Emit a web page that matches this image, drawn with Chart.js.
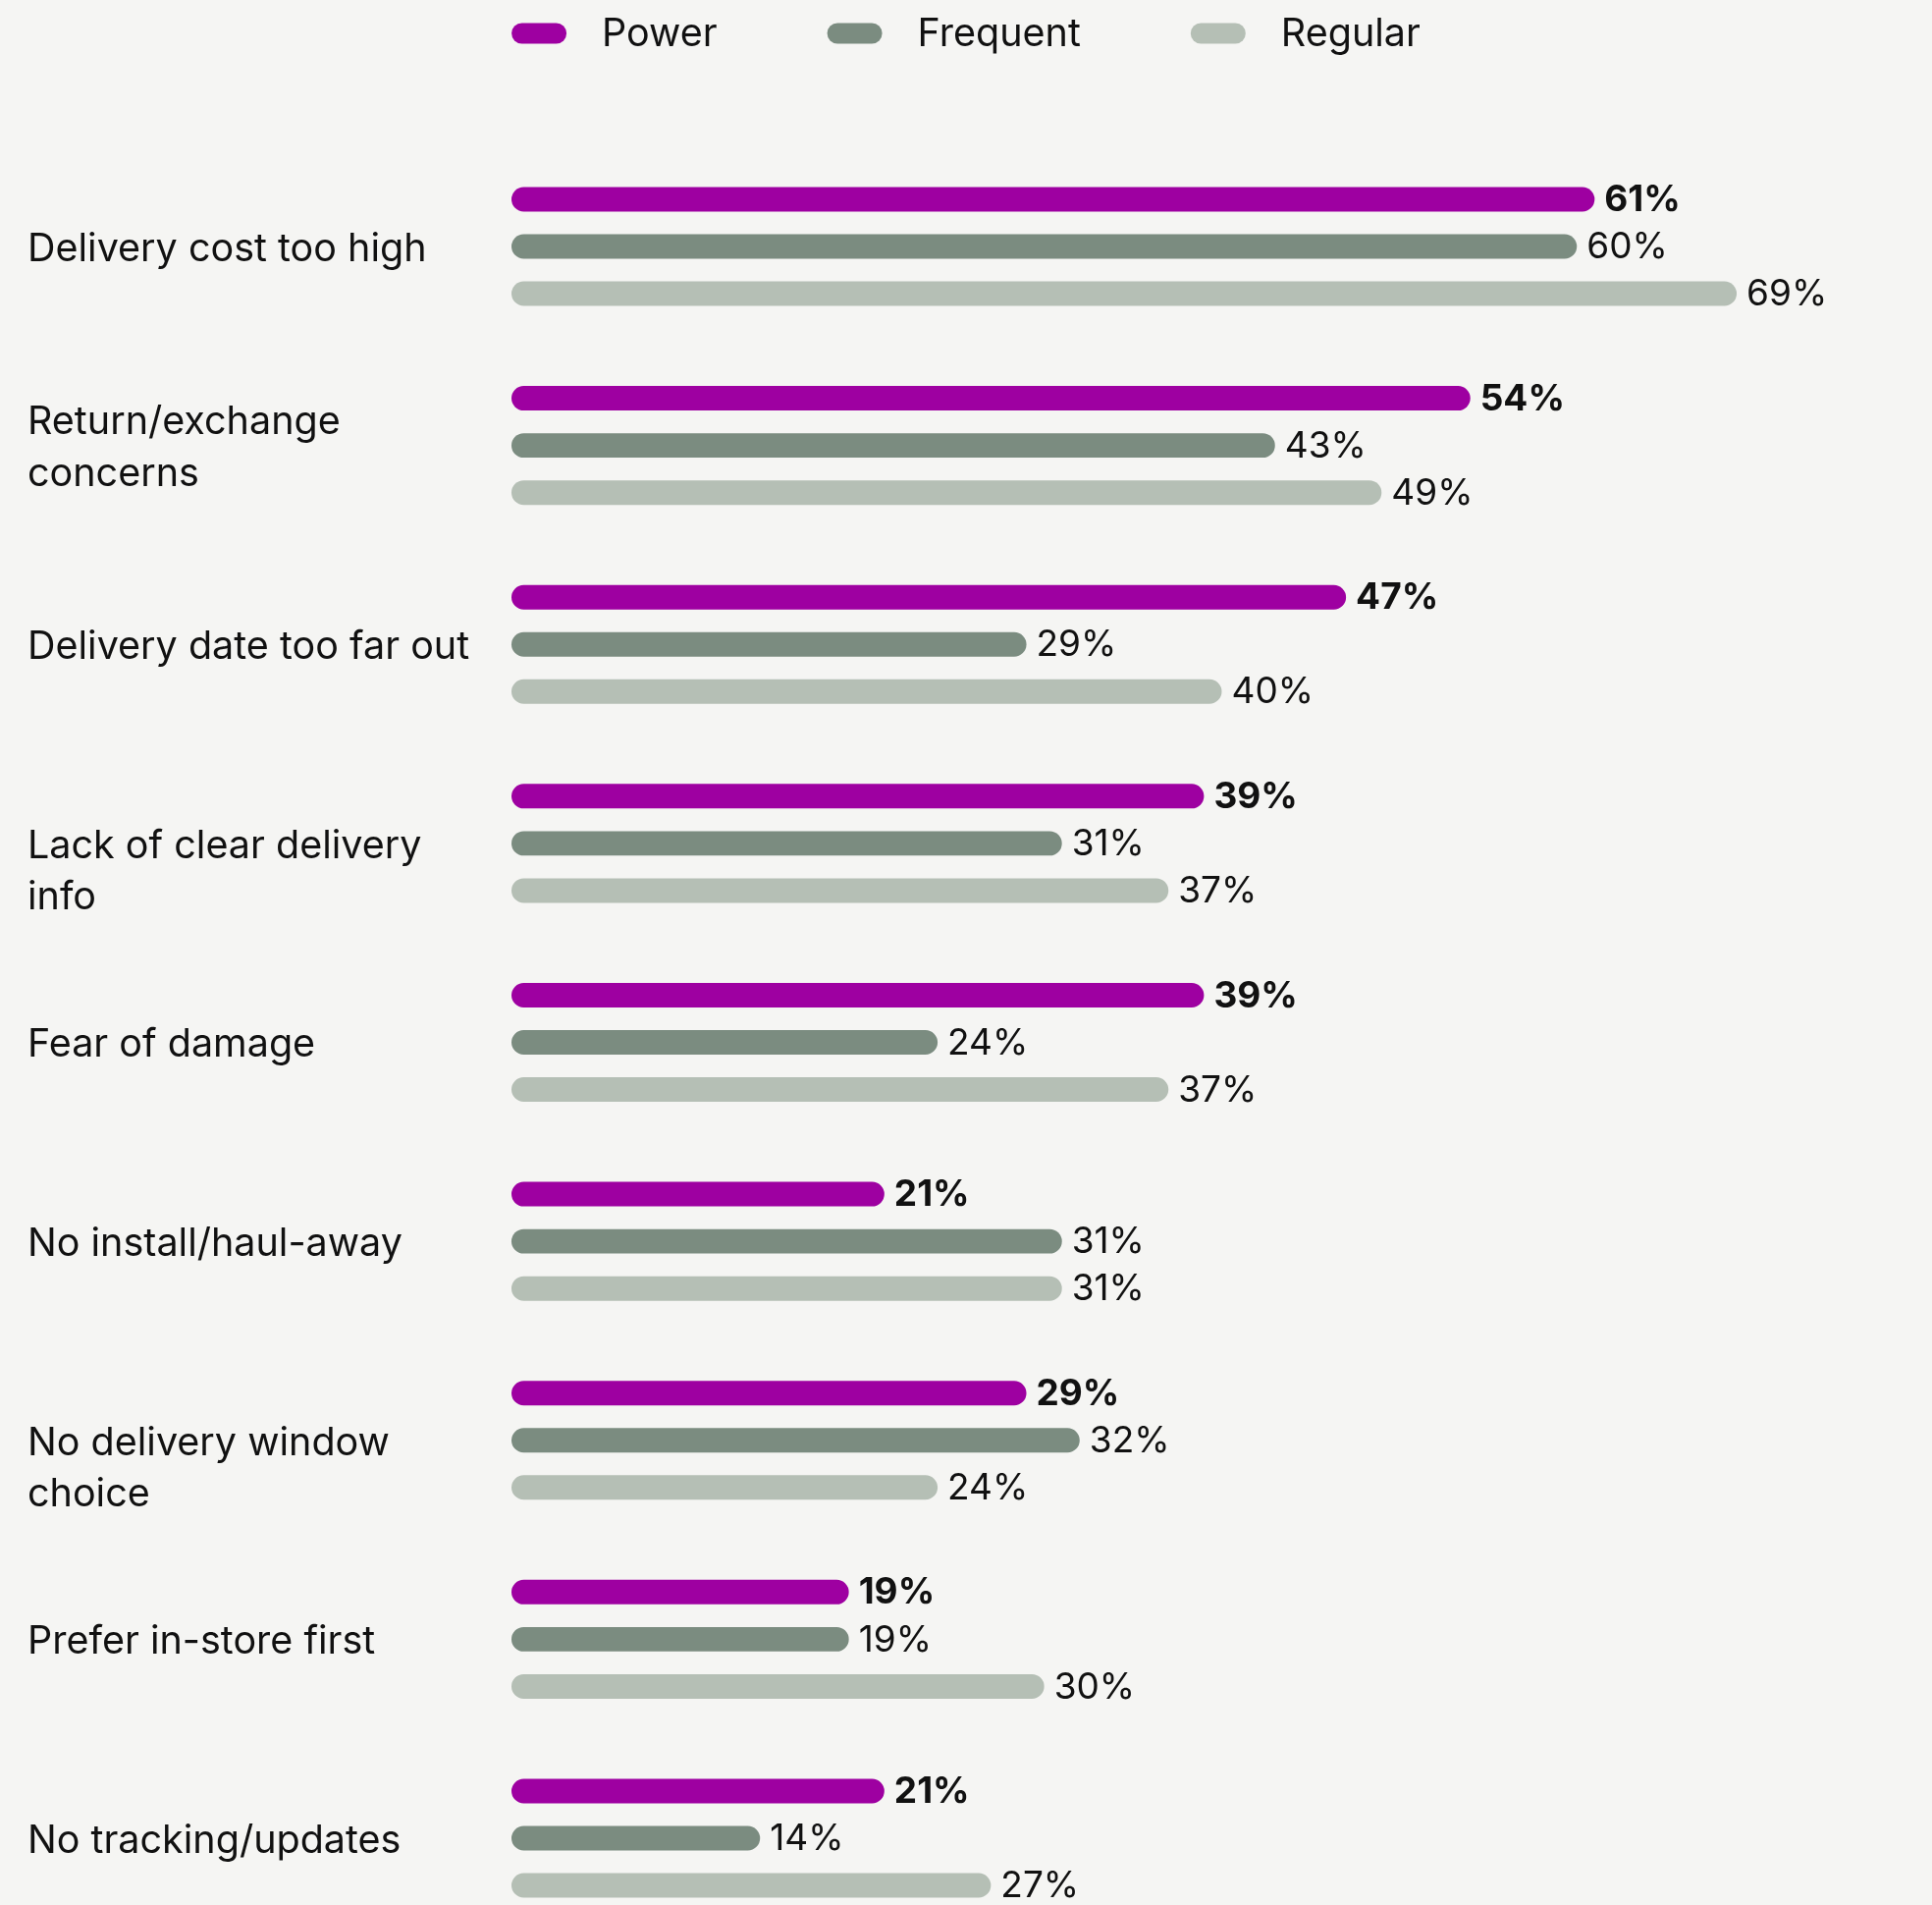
<!DOCTYPE html>
<html>
<head>
<meta charset="utf-8">
<title>Delivery concerns by shopper type</title>
<script src="https://cdn.jsdelivr.net/npm/chart.js@4/dist/chart.umd.min.js"></script>
<style>
  html, body { margin: 0; padding: 0; background: #f5f5f3; }
  #wrap { width: 1968px; height: 1940px; position: relative; }
</style>
</head>
<body>
<div id="wrap"><canvas id="concernsChart"></canvas></div>
<script>
// ---------- data ----------
// two of the wrapped labels start level with the middle bar, hence the leading blank line
const categories = [
  "Delivery cost too high",
  ["Return/exchange", "concerns"],
  "Delivery date too far out",
  ["", "Lack of clear delivery", "info"],
  "Fear of damage",
  "No install/haul-away",
  ["", "No delivery window", "choice"],
  "Prefer in-store first",
  "No tracking/updates"
];
const seriesNames = ["Power", "Frequent", "Regular"];
const powerValues    = [61, 54, 47, 39, 39, 21, 29, 19, 21];
const frequentValues = [60, 43, 29, 31, 24, 31, 32, 19, 14];
const regularValues  = [69, 49, 40, 37, 37, 31, 24, 30, 27];

const colors = ["#9e00a1", "#7b8c80", "#b5bfb5"];
const FONT = "Inter, 'Noto Sans', sans-serif";

// ---------- value labels at bar ends ----------
const valueLabels = {
  id: "valueLabels",
  afterDatasetsDraw(chart) {
    const ctx = chart.ctx;
    ctx.save();
    ctx.textBaseline = "middle";
    ctx.textAlign = "left";
    ctx.fillStyle = "#111";
    chart.data.datasets.forEach((ds, i) => {
      ctx.font = `${i === 0 ? 700 : 400} 37px ${FONT}`;
      chart.getDatasetMeta(i).data.forEach((bar, j) => {
        ctx.fillText(ds.data[j] + "%", bar.x + 10, bar.y + 1);
      });
    });
    ctx.restore();
  }
};

// ---------- pill legend across the top ----------
const pillLegend = {
  id: "pillLegend",
  afterDraw(chart) {
    const ctx = chart.ctx;
    const pillW = 56, pillH = 21, textGap = 36, itemGap = 112, cy = 34;
    ctx.save();
    ctx.font = `400 39.5px ${FONT}`;
    ctx.textBaseline = "middle";
    const items = chart.data.datasets.map(ds => ({
      label: ds.label,
      color: ds.backgroundColor,
      w: pillW + textGap + ctx.measureText(ds.label).width
    }));
    const total = items.reduce((s, it) => s + it.w, 0) + itemGap * (items.length - 1);
    let x = chart.width / 2 - total / 2;
    items.forEach(it => {
      ctx.fillStyle = it.color;
      ctx.beginPath();
      ctx.roundRect(x, cy - pillH / 2, pillW, pillH, pillH / 2);
      ctx.fill();
      ctx.fillStyle = "#111";
      ctx.fillText(it.label, x + pillW + textGap, cy + 1);
      x += it.w + itemGap;
    });
    ctx.restore();
  }
};

// ---------- chart ----------
const seriesValues = [powerValues, frequentValues, regularValues];

new Chart(document.getElementById("concernsChart").getContext("2d"), {
  type: "bar",
  data: {
    labels: categories,
    datasets: seriesNames.map((name, i) => ({
      label: name,
      data: seriesValues[i],
      backgroundColor: colors[i],
      borderRadius: 13,
      borderSkipped: false,
      categoryPercentage: 0.711,
      barPercentage: 0.52,
      clip: false
    }))
  },
  options: {
    indexAxis: "y",
    responsive: true,
    maintainAspectRatio: false,
    animation: false,
    layout: { padding: { top: 251, bottom: 68, left: 28, right: 0 } },
    plugins: {
      legend: { display: false },
      tooltip: { enabled: false }
    },
    scales: {
      x: { min: 0, max: 80, display: false },
      y: {
        offset: false,
        grid: { display: false },
        border: { display: false },
        afterFit: (scale) => { scale.width = 493; },
        ticks: {
          crossAlign: "far",
          padding: 0,
          labelOffset: 3,
          color: "#111",
          font: { family: FONT, size: 39.5, lineHeight: 1.33 }
        }
      }
    }
  },
  plugins: [valueLabels, pillLegend]
});
</script>
</body>
</html>
